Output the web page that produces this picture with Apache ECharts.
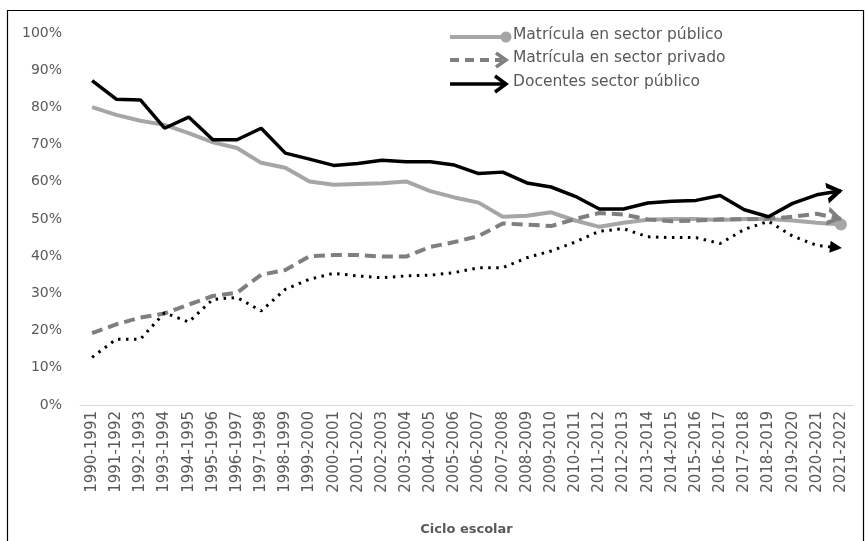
<!DOCTYPE html>
<html>
<head>
<meta charset="utf-8">
<style>
  html, body { margin: 0; padding: 0; background: #fff; }
  #chart { width: 865px; height: 541px; }
</style>
<script src="https://cdn.jsdelivr.net/npm/echarts@6/dist/echarts.min.js"></script>
</head>
<body>
<div id="chart"></div>
<script>
// ciclos escolares
const categories = [
  '1990-1991', '1991-1992', '1992-1993', '1993-1994', '1994-1995', '1995-1996',
  '1996-1997', '1997-1998', '1998-1999', '1999-2000', '2000-2001', '2001-2002',
  '2002-2003', '2003-2004', '2004-2005', '2005-2006', '2006-2007', '2007-2008',
  '2008-2009', '2009-2010', '2010-2011', '2011-2012', '2012-2013', '2013-2014',
  '2014-2015', '2015-2016', '2016-2017', '2017-2018', '2018-2019', '2019-2020',
  '2020-2021', '2021-2022'
];
// porcentajes
const matriculaPublico = [80.1, 78.0, 76.4, 75.3, 73.1, 70.6, 69.1, 65.1, 63.8, 60.1, 59.2, 59.4,
  59.6, 60.1, 57.5, 55.8, 54.4, 50.6, 50.9, 51.8, 49.6, 47.9, 49.0, 49.8,
  50.0, 50.0, 49.7, 50.0, 50.0, 49.6, 49.0, 48.5];
const matriculaPrivado = [19.3, 21.7, 23.5, 24.6, 27.0, 29.3, 30.2, 35.0, 36.3, 40.0, 40.3, 40.3,
  39.9, 39.9, 42.5, 43.8, 45.4, 48.8, 48.5, 48.1, 50.0, 51.6, 51.2, 49.9,
  49.4, 49.6, 49.9, 49.9, 50.1, 50.6, 51.4, 50.0];
const docentesPublico = [87.2, 82.2, 82.0, 74.4, 77.4, 71.3, 71.3, 74.4, 67.7, 66.1, 64.4, 64.9,
  65.8, 65.4, 65.4, 64.5, 62.2, 62.6, 59.7, 58.6, 56.1, 52.7, 52.7, 54.3,
  54.8, 55.0, 56.3, 52.5, 50.6, 54.2, 56.5, 57.6];
const docentesPrivado = [12.8, 17.7, 17.7, 24.8, 22.3, 28.4, 28.9, 25.3, 31.1, 33.8, 35.4, 34.7,
  34.2, 34.7, 34.9, 35.6, 36.9, 36.9, 39.6, 41.4, 43.8, 46.7, 47.4, 45.2,
  45.0, 45.0, 43.4, 47.2, 49.4, 45.4, 42.9, 42.2];
const yTicks = [0, 10, 20, 30, 40, 50, 60, 70, 80, 90, 100];

const legendNames = ['Matrícula en sector público', 'Matrícula en sector privado', 'Docentes sector público'];

const chevron = 'path://M0,0 L12,8 L0,16 L0,12 L6.5,8 L0,4 Z';
const triangle = 'path://M0,0 L12,6 L0,12 Z';

const chart = echarts.init(document.getElementById('chart'));

function withEnd(arr, end) {
  return arr.map((v, i) => i === arr.length - 1 ? Object.assign({ value: v }, end) : v);
}

function buildSeries(rot) {
  rot = rot || {};
  const r = k => rot[k] || { angle: 0, off: [0, 0] };
  return [
    {
      name: legendNames[0], type: 'line', symbol: 'none', z: 2,
      lineStyle: { color: '#a6a6a6', width: 4 },
      data: withEnd(matriculaPublico, {
        symbol: 'circle', symbolSize: 12,
        itemStyle: { color: '#a6a6a6' }
      })
    },
    {
      name: legendNames[1], type: 'line', symbol: 'none', z: 3,
      lineStyle: { color: '#7f7f7f', width: 4, type: [11, 6] },
      data: withEnd(matriculaPrivado, {
        symbol: chevron, symbolSize: [15, 19], symbolKeepAspect: false,
        symbolRotate: r('mp').angle, symbolOffset: r('mp').off,
        itemStyle: { color: '#7f7f7f' }
      })
    },
    {
      name: legendNames[2], type: 'line', symbol: 'none', z: 4,
      lineStyle: { color: '#000', width: 3.5 },
      data: withEnd(docentesPublico, {
        symbol: chevron, symbolSize: [16, 21], symbolKeepAspect: false,
        symbolRotate: r('dp').angle, symbolOffset: r('dp').off,
        itemStyle: { color: '#000' }
      })
    },
    {
      name: 'Docentes sector privado', type: 'line', symbol: 'none', z: 3,
      lineStyle: { color: '#000', width: 3, type: [2.5, 5.5] },
      data: withEnd(docentesPrivado, {
        symbol: triangle, symbolSize: [12, 12], symbolKeepAspect: false,
        symbolRotate: r('dv').angle, symbolOffset: r('dv').off,
        itemStyle: { color: '#000' }
      })
    }
  ];
}

const txt = '#595959';
const lx = 450, ly = [37, 60, 84];

const option = {
  animation: false,
  grid: { left: 80, right: 12, top: 33, bottom: 135, containLabel: false },
  xAxis: {
    type: 'category',
    data: categories,
    boundaryGap: true,
    axisLine: { lineStyle: { color: '#d9d9d9', width: 1 } },
    axisTick: { show: false },
    axisLabel: {
      rotate: 90, interval: 0, margin: 6,
      color: txt, fontFamily: 'DejaVu Sans', fontSize: 15
    },
    name: 'Ciclo escolar',
    nameLocation: 'middle',
    nameGap: 118,
    nameTextStyle: { color: txt, fontFamily: 'DejaVu Sans', fontSize: 13, fontWeight: 'bold' }
  },
  yAxis: {
    type: 'value',
    min: yTicks[0], max: yTicks[yTicks.length - 1], interval: 10,
    axisLine: { show: false },
    axisTick: { show: false },
    splitLine: { show: false },
    axisLabel: {
      formatter: '{value}%', margin: 18,
      color: txt, fontFamily: 'DejaVu Sans', fontSize: 14
    }
  },
  series: buildSeries(),
  graphic: [
    {
      type: 'rect', silent: true,
      shape: { x: 7.5, y: 10.5, width: 856, height: 545 },
      style: { fill: 'none', stroke: '#000', lineWidth: 1.2 }
    },
    // leyenda
    { type: 'line', shape: { x1: lx, y1: ly[0], x2: lx + 55, y2: ly[0] }, style: { stroke: '#a6a6a6', lineWidth: 4 } },
    { type: 'circle', shape: { cx: lx + 56, cy: ly[0], r: 5.5 }, style: { fill: '#a6a6a6' } },
    { type: 'line', shape: { x1: lx, y1: ly[1], x2: lx + 52, y2: ly[1] }, style: { stroke: '#7f7f7f', lineWidth: 4, lineDash: [9, 6] } },
    { type: 'polyline', shape: { points: [[lx + 46, ly[1] - 7], [lx + 56, ly[1]], [lx + 46, ly[1] + 7]] }, style: { stroke: '#7f7f7f', lineWidth: 3.5, fill: 'none' } },
    { type: 'line', shape: { x1: lx, y1: ly[2], x2: lx + 54, y2: ly[2] }, style: { stroke: '#000', lineWidth: 3.5 } },
    { type: 'polyline', shape: { points: [[lx + 45, ly[2] - 8], [lx + 56, ly[2]], [lx + 45, ly[2] + 8]] }, style: { stroke: '#000', lineWidth: 3.5, fill: 'none' } }
  ].concat(legendNames.map((n, i) => ({
    type: 'text', left: lx + 63, top: ly[i] - 10,
    style: { text: n, fill: txt, font: '15.5px "DejaVu Sans"' }
  })))
};

chart.setOption(option);

// orientar las flechas segun el ultimo tramo de cada serie
function endRot(arr, half) {
  const n = arr.length;
  const a = chart.convertToPixel({ gridIndex: 0 }, [categories[n - 2], arr[n - 2]]);
  const b = chart.convertToPixel({ gridIndex: 0 }, [categories[n - 1], arr[n - 1]]);
  const dx = b[0] - a[0], dy = b[1] - a[1];
  const len = Math.sqrt(dx * dx + dy * dy);
  return {
    angle: Math.atan2(-dy, dx) * 180 / Math.PI,
    off: [-half * dx / len, -half * dy / len]
  };
}
chart.setOption({
  series: buildSeries({
    mp: endRot(matriculaPrivado, 6),
    dp: endRot(docentesPublico, 6),
    dv: endRot(docentesPrivado, 5)
  })
});
</script>
</body>
</html>
